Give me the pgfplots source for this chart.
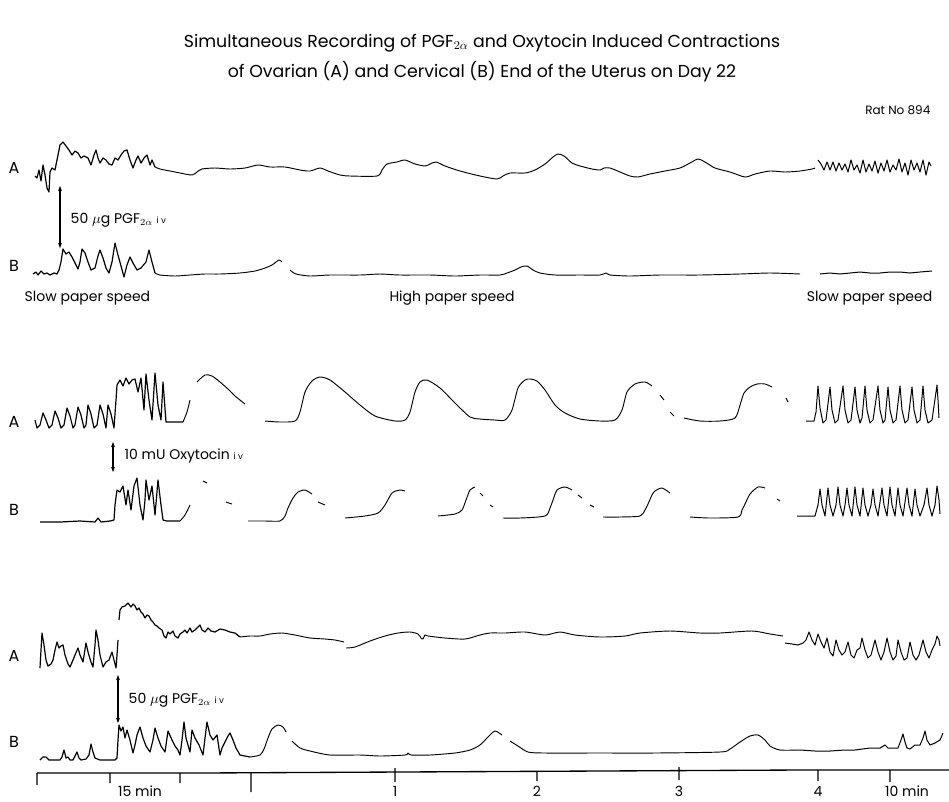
\documentclass[border=0pt]{standalone}
\usepackage{pgfplots}
\pgfplotsset{compat=1.18}
\usepackage{fontspec}
\setmainfont{Poppins}
\usetikzlibrary{arrows.meta}

\tikzset{trace/.style={black, line width=0.75pt, line join=round}}
\tikzset{slow/.style={black, line width=0.9pt, line join=round}}
\tikzset{fast/.style={black, line width=0.7pt, line join=round, smooth, tension=0.45}}
\newcommand{\pgf}{PGF$_{2\alpha}$}

\begin{document}
\begin{tikzpicture}
\begin{axis}[
  scale only axis,
  width=711.75pt, height=600.75pt,
  xmin=0, xmax=949, ymin=0, ymax=801,
  y dir=reverse,
  hide axis,
  clip=false,
  unbounded coords=jump,
]
\path[use as bounding box] (axis cs:0,0) rectangle (axis cs:949,801);
% ---------- panel 1, trace A ----------
\addplot[slow] coordinates {
(35,176)(37,178)(39,170)(41,181)(43,165)(45,175)(47,188)(49,192)(50,172)(52,168)(55,170)(57,160)(60,145)(63,142)(66,146)(69,150)(72,155)(75,151)(78,153)(81,158)(84,156)(88,158)(91,165)(94,155)(96,150)(98,158)(100,163)(103,158)(106,160)(109,164)(112,165)(115,158)(118,160)(121,155)(124,151)(127,150)(130,160)(133,168)(136,160)(138,156)(141,163)(144,158)(147,155)(150,165)(152,160)(155,167)
};
\addplot[fast] coordinates {
(155,167)(160,169)(170,171)(180,173)(192,175)(197,172)(202,169)(215,168)(230,169)(245,168)(258,165)(270,167)(285,167)(300,170)(310,171)(320,168)(328,171)(340,175)(350,176)(377,176)(382,170)(387,164)(397,162)(405,160)(415,164)(425,166)(430,164)(436,162)(445,166)(460,171)(480,176)(497,179)(503,176)(510,173)(525,173)(535,170)(545,164)(553,157)(558,154)(564,156)(572,163)(580,166)(592,169)(600,170)(604,168)(610,168)(620,172)(630,176)(638,177)(650,174)(665,171)(680,168)(690,163)(698,159)(705,162)(715,168)(730,172)(745,177)(755,174)(770,171)(785,172)(800,171)(812,169)(815,168)
};
\addplot[trace] coordinates {
(818,160)(821,164)(824,170)(827,162)(830,170)(833,162)(836,171)(839,163)(842,170)(845,164)(848,172)(851,160)(854,170)(857,165)(860,173)(863,160)(866,172)(869,164)(872,171)(875,161)(878,173)(881,163)(884,171)(887,160)(890,172)(893,165)(896,170)(899,159)(902,172)(905,163)(908,175)(911,160)(914,170)(917,163)(920,172)(923,160)(926,175)(929,162)(931,166)
};
% ---------- panel 1, trace B ----------
\addplot[slow] coordinates {
(33,274)(36,272)(38,275)(41,271)(44,274)(47,273)(50,275)(54,273)(57,274)(59,270)(61,262)(63,249)(66,254)(69,252)(72,257)(75,263)(78,269)(80,262)(82,249)(85,253)(88,262)(91,270)(95,268)(98,256)(100,250)(103,258)(106,268)(109,273)(112,262)(115,243)(118,255)(121,266)(124,277)(127,265)(130,257)(133,263)(137,270)(141,268)(146,262)(149,250)(152,262)(155,273)
};
\addplot[fast] coordinates {
(155,273)(160,275)(175,276)(190,275)(205,274)(220,274)(240,273)(255,271)(265,268)(272,265)(279,260)(282,262)
(286,nan)
(290,270)(296,274)(310,276)(330,275)(360,275)(380,274)(400,275)(430,275)(455,276)(480,275)(500,275)(507,273)(515,270)(521,267)(527,266)(533,270)(540,273)(555,275)(580,275)(600,275)(606,273)(610,275)(630,276)(660,275)(700,275)(740,274)(770,273)(800,274)
};
\addplot[trace] coordinates {
(820,274)(830,273)(840,274)(850,273)(860,272)(870,273)(880,273)(890,272)(900,272)(910,273)(920,272)(932,271)
};
% ---------- panel 2, trace A ----------
\addplot[slow] coordinates {
(35,420)(37,428)(40,425)(43,413)(46,420)(49,428)(52,425)(55,411)(58,418)(61,428)(64,425)(67,408)(70,416)(73,428)(75,425)(78,407)(81,415)(84,428)(86,425)(88,405)(91,414)(94,428)(97,425)(100,405)(103,414)(106,428)(108,405)(111,414)(114,428)(116,400)(117,385)(120,380)(123,386)(126,378)(129,384)(132,380)(135,379)(138,392)(141,378)(144,410)(146,374)(149,400)(152,420)(155,373)(158,405)(161,420)(163,382)(166,422)(170,422)(183,422)
};
\addplot[fast] coordinates {
(183,422)(187,412)(190,400)
(193,nan)
(197,382)(205,375)(212,376)(220,382)(228,389)(235,396)(245,404)
(255,nan)
(265,421)(280,422)(295,421)(300,412)(305,392)(312,381)(320,377)(330,380)(345,392)(360,405)(375,416)(395,421)(405,420)(410,412)(415,392)(420,382)(427,380)(440,388)(455,403)(470,417)(480,419)(495,420)(505,420)(512,410)(518,388)(525,380)(530,379)(537,381)(545,390)(555,405)(565,413)(580,419)(600,421)(615,420)(622,410)(627,392)(635,384)(645,382)(652,386)
(656,nan)
(660,395)(664,400)
(667,nan)
(670,412)(674,416)
(678,nan)
(684,418)(700,421)(720,421)(735,418)(740,405)(744,393)(750,387)(757,384)(765,384)(772,387)
(780,nan)
(786,398)(788,402)
};
\addplot[trace] coordinates {
(806,421)(814,421)(816,412)(818,386)(820,408)(823,423)(826,420)(830,387)(832,410)(835,423)(838,420)(843,386)(845,410)(848,423)(851,420)(855,387)(857,410)(860,423)(862,418)(865,386)(867,410)(870,423)(873,420)(878,386)(880,410)(883,423)(885,420)(888,387)(890,410)(893,423)(896,420)(900,386)(902,410)(905,423)(908,420)(912,387)(914,410)(917,423)(920,420)(923,386)(925,410)(928,423)(932,420)(937,385)(938,400)(939,418)
};
% ---------- panel 2, trace B ----------
\addplot[slow] coordinates {
(40,522)(60,522)(80,521)(95,522)(98,518)(101,522)(110,521)(114,520)(115,505)(117,490)(120,492)(123,486)(126,505)(128,490)(131,510)(134,486)(137,478)(140,505)(143,520)(145,500)(146,480)(149,500)(152,486)(155,515)(158,480)(161,505)(163,520)(167,521)(180,521)
};
\addplot[fast] coordinates {
(180,521)(185,515)(190,505)
(195,nan)
(203,481)(207,483)
(215,nan)
(226,502)(232,504)
(240,nan)
(248,521)(265,521)(280,521)(285,516)(288,508)(293,498)(298,492)(305,490)(312,494)
(315,nan)
(318,502)(325,505)
(335,nan)
(345,518)(365,516)(378,513)(385,505)(392,493)(400,490)(405,491)
(420,nan)
(438,516)(455,514)(462,510)(466,500)(470,490)(475,487)
(477,nan)
(480,493)(483,496)
(486,nan)
(490,505)(493,507)
(498,nan)
(503,518)(520,518)(545,516)(550,508)(553,500)(557,490)(565,487)(572,490)
(575,nan)
(578,495)(582,498)
(586,nan)
(590,505)(594,507)
(598,nan)
(603,517)(620,517)(640,516)(645,510)(648,504)(652,495)(655,491)(662,488)(670,493)
(680,nan)
(690,517)(710,518)(738,517)(742,510)(745,504)(750,494)(758,487)(765,488)
(770,nan)
(777,499)(780,501)
};
\addplot[trace] coordinates {
(797,516)(815,516)(818,505)(820,489)(822,505)(825,516)(828,488)(830,505)(833,516)(836,505)(838,487)(840,505)(843,516)(845,505)(847,488)(849,505)(852,516)(855,487)(857,505)(860,516)(863,488)(865,505)(868,516)(871,505)(873,489)(875,505)(878,516)(882,488)(884,505)(887,516)(890,487)(892,505)(895,516)(898,488)(900,505)(903,516)(907,488)(909,505)(912,516)(915,489)(917,505)(920,516)(924,505)(927,488)(929,505)(932,516)(935,505)(937,486)(939,500)(940,514)
};
% ---------- panel 3, trace A ----------
\addplot[slow] coordinates {
(40,668)(41,650)(42,633)(44,645)(46,660)(48,666)(51,664)(53,660)(55,650)(57,642)(59,648)(61,646)(63,645)(65,655)(68,664)(70,667)(73,660)(75,655)(78,648)(80,655)(83,662)(86,643)(88,652)(91,662)(93,667)(95,645)(96,630)(98,640)(100,655)(103,667)(106,662)(109,660)(112,652)(114,660)(116,668)(117,655)(118,640)
(118.5,nan)
(119,620)(120,610)(122,607)(125,606)(128,603)(131,607)(133,604)(135,606)(137,610)(139,608)(141,612)(143,614)(145,618)(147,615)(149,616)(151,620)(153,622)(155,625)(157,626)(159,628)(162,630)(164,636)(166,638)(168,632)(170,634)(173,631)(175,636)(178,638)(180,634)(183,632)(185,630)(187,633)(190,628)(192,632)(195,630)(198,627)(200,625)(202,630)(205,632)(208,628)(211,631)(215,632)(220,629)(225,630)(230,632)(235,633)(240,637)
};
\addplot[fast] coordinates {
(240,637)(250,636)(260,636)(270,634)(282,633)(295,635)(310,638)(325,639)(335,640)(344,642)
(345,nan)
(346,648)(355,647)(370,641)(385,636)(398,633)(410,632)(418,634)(421,638)(423,639)(425,635)(428,636)(445,638)(465,639)(480,635)(490,633)(505,633)(525,632)(545,635)(560,632)(575,635)(600,637)(625,636)(640,633)(670,631)(700,633)(720,633)(752,631)(770,634)(783,636)
};
\addplot[trace] coordinates {
(785,643)(792,644)(798,645)(803,643)(806,640)(809,632)(812,640)(815,645)(818,634)(821,642)(824,648)(827,638)(830,652)(833,656)(836,640)(839,650)(842,655)(845,652)(848,642)(851,655)(854,658)(857,650)(860,648)(862,638)(865,650)(868,658)(871,655)(875,640)(878,652)(881,660)(884,652)(887,638)(890,652)(893,660)(896,656)(898,640)(901,652)(904,660)(907,658)(910,642)(913,655)(916,660)(919,655)(923,640)(926,652)(929,658)(932,650)(935,644)(937,636)(939,640)(940,646)
};
% ---------- panel 3, trace B ----------
\addplot[slow] coordinates {
(40,760)(43,757)(46,757)(49,760)(55,760)(60,760)(62,757)(64,750)(66,758)(68,757)(70,760)(73,760)(75,756)(77,752)(79,758)(81,760)(86,759)(89,755)(91,744)(93,752)(95,758)(100,760)(110,760)(115,760)(117,758)(118,740)(119,725)(121,731)(123,727)(125,738)(127,730)(130,740)(133,753)(135,745)(137,735)(140,727)(143,738)(146,746)(150,752)(153,740)(155,728)(158,738)(161,746)(165,752)(168,731)(172,740)(175,746)(178,750)(180,755)(182,740)(184,722)(186,738)(188,745)(190,752)(192,730)(195,738)(199,745)(203,755)(205,738)(207,722)(210,735)(213,740)(217,735)(220,755)(222,748)(225,742)(228,736)(230,733)(233,740)(236,748)(240,755)(250,757)
};
\addplot[fast] coordinates {
(250,757)(260,755)(264,749)(268,738)(272,729)(278,725)(283,727)(286,732)
(289,nan)
(292,741)(300,748)(310,751)(330,755)(360,755)(380,756)(405,755)(408,753)(411,755)(430,755)(455,753)(470,750)(480,745)(488,737)(495,731)(502,735)
(506,nan)
(510,741)(518,746)(528,752)(545,753)(600,753)(655,753)(720,752)(730,749)(740,742)(750,736)(758,735)(765,740)(770,746)(780,750)(800,750)
};
\addplot[trace] coordinates {
(800,750)(815,751)(830,751)(845,750)(855,750)(870,748)(880,748)(885,745)(888,748)(898,748)(901,740)(903,734)(905,742)(907,748)(910,749)(915,745)(920,745)(923,738)(925,731)(927,740)(930,745)(935,743)(940,740)(943,733)
};
% ---------- time base ----------
\addplot[black, line width=1pt] coordinates {
(37,773)(200,773)(400,772)(600,771)(800,770)(949,770)
(950,nan)
(37,773)(37,785) (38,nan)
(110,773)(110,783) (111,nan)
(180,773)(180,783) (181,nan)
(251,773)(251,792) (252,nan)
(395,768)(395,782) (396,nan)
(537,771)(537,781) (538,nan)
(679,767)(679,780) (680,nan)
(818,770)(818,781) (819,nan)
(890,770)(890,782)
};

% ---------- text ----------
\node[font=\fontsize{13}{15}\selectfont] at (axis cs:482,43) {Simultaneous Recording of \pgf\ and Oxytocin Induced Contractions};
\node[font=\fontsize{13}{15}\selectfont] at (axis cs:482,72) {of Ovarian (A) and Cervical (B) End of the Uterus on Day 22};
\node[font=\fontsize{9}{10}\selectfont, anchor=east] at (axis cs:935,110) {Rat No 894};

\begin{scope}[font=\fontsize{12}{13}\selectfont]
\node at (axis cs:14,168) {A};
\node at (axis cs:14,266) {B};
\node at (axis cs:14,422) {A};
\node at (axis cs:14,510) {B};
\node at (axis cs:14,656) {A};
\node at (axis cs:14,742) {B};
\end{scope}

\begin{scope}[font=\fontsize{10.5}{11}\selectfont]
\node[anchor=west] at (axis cs:20,298) {Slow paper speed};
\node at (axis cs:452,298) {High paper speed};
\node[anchor=east] at (axis cs:937,298) {Slow paper speed};
\node[anchor=west] at (axis cs:66,220) {50 $\mu$g \pgf\ {\fontsize{6.5}{7}\selectfont i v}};
\node[anchor=west] at (axis cs:120,456) {10 mU Oxytocin {\fontsize{6.5}{7}\selectfont i v}};
\node[anchor=west] at (axis cs:124,700) {50 $\mu$g \pgf\ {\fontsize{6.5}{7}\selectfont i v}};
\node at (axis cs:140,791) {15 min};
\node at (axis cs:395,791) {1};
\node at (axis cs:537,791) {2};
\node at (axis cs:679,791) {3};
\node at (axis cs:818,791) {4};
\node at (axis cs:907,791) {10 min};
\end{scope}

\draw[{Stealth[length=4pt]}-{Stealth[length=4pt]}, line width=0.8pt] (axis cs:60,186) -- (axis cs:60,248);
\draw[{Stealth[length=4pt]}-{Stealth[length=4pt]}, line width=0.8pt] (axis cs:113,442) -- (axis cs:113,472);
\draw[{Stealth[length=4pt]}-{Stealth[length=4pt]}, line width=0.8pt] (axis cs:118,675) -- (axis cs:118,723);
\end{axis}
\end{tikzpicture}
\end{document}
